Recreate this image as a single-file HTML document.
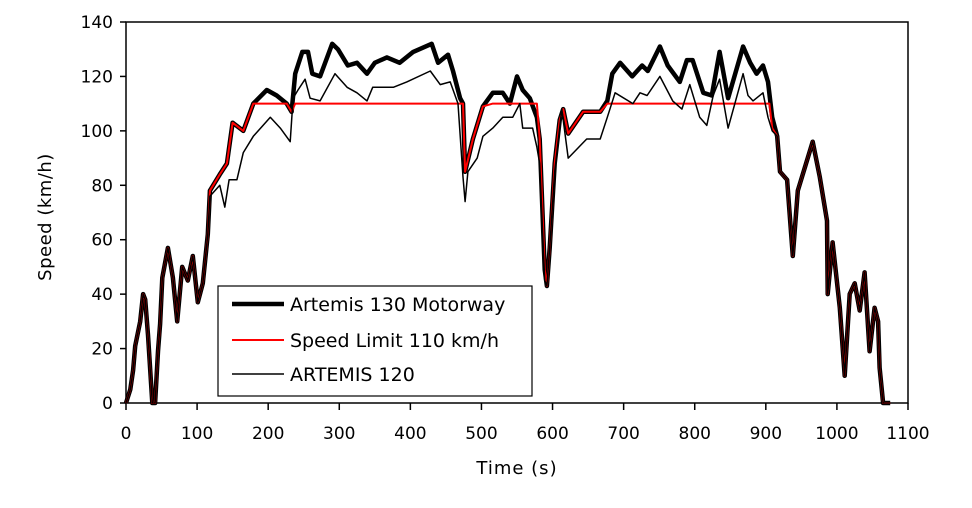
<!DOCTYPE html>
<html><head><meta charset="utf-8"><style>
body{margin:0;background:#fff;}
svg text{font-family:"DejaVu Sans","Liberation Sans",sans-serif;fill:#000;}
</style></head><body>
<svg id="chart" width="972" height="503" viewBox="0 0 972 503" xmlns="http://www.w3.org/2000/svg">
<rect x="0" y="0" width="972" height="503" fill="#fff"/>
<g id="plot"></g>
</svg>
<script>
const xTicks=[0,100,200,300,400,500,600,700,800,900,1000,1100];
const yTicks=[0,20,40,60,80,100,120,140];
const motorway=[[0,0],[6,5],[10,12],[13,21],[20,30],[24,40],[27,38],[31,25],[37,0],[41,0],[45,19],[48,29],[51,46],[59,57],[66,46],[72,30],[79,50],[87,45],[94,54],[101,37],[108,44],[115,62],[118,78],[132,84],[142,88],[150,103],[165,100],[179,110],[198,115],[212,113],[226,110],[233,107],[238,121],[248,129],[256,129],[262,121],[273,120],[290,132],[298,130],[312,124],[325,125],[339,121],[350,125],[367,127],[385,125],[404,129],[430,132],[439,125],[453,128],[460,122],[470,112],[474,110],[477,85],[488,97],[502,109],[516,114],[530,114],[540,110],[550,120],[558,115],[568,112],[578,105],[582,97],[589,49],[592,43],[596,57],[603,88],[610,104],[615,108],[622,99],[643,107],[667,107],[677,111],[684,121],[695,125],[712,120],[726,124],[734,122],[751,131],[762,124],[779,118],[789,126],[797,126],[812,114],[824,113],[835,129],[847,112],[868,131],[878,125],[887,121],[896,124],[903,118],[909,105],[916,98],[920,85],[930,82],[938,54],[945,78],[966,96],[976,83],[986,67],[987,40],[994,59],[1004,35],[1011,10],[1018,40],[1025,44],[1032,34],[1039,48],[1046,19],[1053,35],[1058,30],[1060,13],[1065,0],[1075,0]];
const speedLimit=[[0,0],[6,5],[10,12],[13,21],[20,30],[24,40],[27,38],[31,25],[37,0],[41,0],[45,19],[48,29],[51,46],[59,57],[66,46],[72,30],[79,50],[87,45],[94,54],[101,37],[108,44],[115,62],[118,78],[132,84],[142,88],[150,103],[165,100],[179,110],[226,110],[233,107],[238,110],[474,110],[477,85],[488,97],[502,109],[516,110],[578,110],[582,97],[589,49],[592,43],[596,57],[603,88],[610,104],[615,108],[622,99],[643,107],[667,107],[677,110],[905,110],[909,101],[916,98],[920,85],[930,82],[938,54],[945,78],[966,96],[976,83],[986,67],[987,40],[994,59],[1004,35],[1011,10],[1018,40],[1025,44],[1032,34],[1039,48],[1046,19],[1053,35],[1058,30],[1060,13],[1065,0],[1075,0]];
const artemis120=[[0,0],[6,5],[10,12],[13,21],[20,30],[24,40],[27,38],[31,25],[37,0],[41,0],[45,19],[48,29],[51,46],[59,57],[66,46],[72,30],[79,50],[87,45],[94,54],[101,37],[108,44],[115,62],[118,76],[132,80],[139,72],[145,82],[156,82],[165,92],[179,98],[203,105],[217,101],[231,96],[235,112],[242,115],[252,119],[259,112],[273,111],[294,121],[311,116],[325,114],[339,111],[347,116],[376,116],[395,118],[428,122],[442,117],[456,118],[467,110],[474,83],[477,74],[481,85],[494,90],[502,98],[516,101],[530,105],[544,105],[554,110],[558,101],[572,101],[578,94],[582,88],[589,45],[592,43],[596,57],[603,85],[613,108],[622,90],[648,97],[667,97],[677,105],[688,114],[713,110],[723,114],[733,113],[751,120],[769,111],[782,108],[793,117],[807,105],[817,102],[826,113],[835,119],[847,101],[868,121],[875,113],[882,111],[896,114],[903,105],[909,100],[916,98],[920,85],[930,82],[938,54],[945,78],[966,96],[976,83],[986,67],[987,40],[994,59],[1004,35],[1011,10],[1018,40],[1025,44],[1032,34],[1039,48],[1046,19],[1053,35],[1058,30],[1060,13],[1065,0],[1075,0]];

const X0=126,X1=908,Y0=403,Y1=22;
function xs(t){return X0+(t/1100)*(X1-X0);}
function ys(v){return Y0-(v/140)*(Y0-Y1);}
const NS="http://www.w3.org/2000/svg";
const g=document.getElementById('plot');
function mk(tag,attrs){const e=document.createElementNS(NS,tag);for(const k in attrs)e.setAttribute(k,attrs[k]);g.appendChild(e);return e;}

const frame=mk('rect',{x:X0,y:Y1,width:X1-X0,height:Y0-Y1,fill:'none',stroke:'#000','stroke-width':1.5});



yTicks.forEach(v=>{
  const tk=mk('line',{x1:X0-6,x2:X0,y1:ys(v),y2:ys(v),stroke:'#000','stroke-width':1.5});
  
  
  const tx=mk('text',{x:X0-13,y:ys(v)+6,'text-anchor':'end','font-size':17});
  tx.textContent=v;
  
  
});
xTicks.forEach(v=>{
  const tk=mk('line',{x1:xs(v),x2:xs(v),y1:Y0,y2:Y0+7,stroke:'#000','stroke-width':1.5});
  
  
  const tx=mk('text',{x:xs(v),y:Y0+36,'text-anchor':'middle','font-size':17});
  tx.textContent=v;
  
  
});

function path(arr){return arr.map((p,i)=>(i?'L':'M')+xs(p[0]).toFixed(1)+','+ys(p[1]).toFixed(1)).join('');}
const l1=mk('path',{d:path(motorway),fill:'none',stroke:'#000','stroke-width':4.5,'stroke-linejoin':'round'});


const l2=mk('path',{d:path(speedLimit),fill:'none',stroke:'#ff0000','stroke-width':2,'stroke-linejoin':'round'});


const l3=mk('path',{d:path(artemis120),fill:'none',stroke:'#000','stroke-width':1.5,'stroke-linejoin':'round'});



const lg=mk('rect',{x:218,y:286,width:314,height:110,fill:'#fff',stroke:'#000','stroke-width':1.2});


const entries=[['Artemis 130 Motorway','#000',4.5,304],['Speed Limit 110 km/h','#ff0000',2,340],['ARTEMIS 120','#000',1.5,374]];
entries.forEach(e=>{
  const ln=mk('line',{x1:232,x2:284,y1:e[3],y2:e[3],stroke:e[1],'stroke-width':e[2]});
  
  
  const t=mk('text',{x:290,y:e[3]+7,'font-size':19});
  t.textContent=e[0];
  
  
});
const xt=mk('text',{x:517,y:474,'text-anchor':'middle','font-size':18,'letter-spacing':1});
xt.textContent='Time (s)';


const yt=mk('text',{x:51,y:217,'text-anchor':'middle','font-size':18,'letter-spacing':0.5,transform:'rotate(-90 51 217)'});
yt.textContent='Speed (km/h)';


</script>
</body></html>
